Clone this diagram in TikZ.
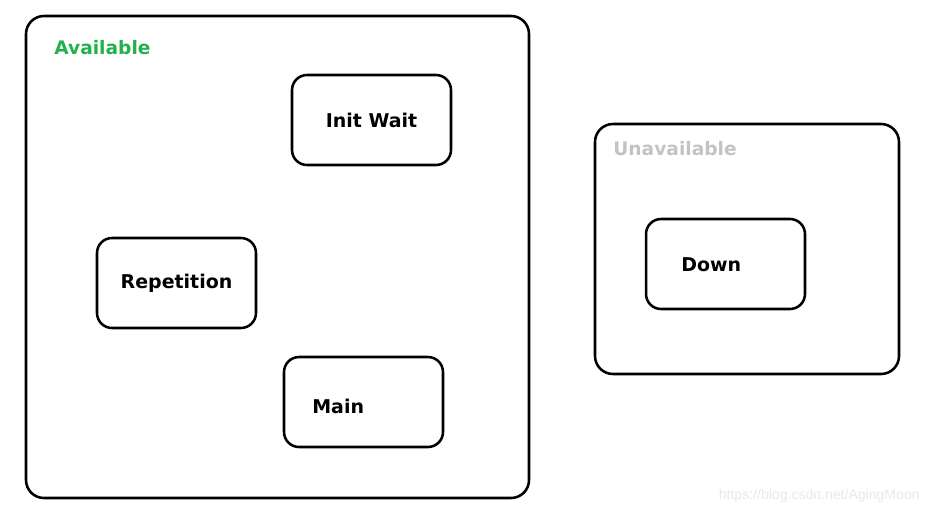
\documentclass[tikz,border=0pt]{standalone}
\usepackage{fontspec}
\setmainfont{DejaVu Sans}
\newfontfamily\markfont{Liberation Sans}
\usetikzlibrary{positioning}
\definecolor{availgreen}{RGB}{34,177,76}
\definecolor{unavailgray}{RGB}{195,195,195}
\definecolor{markgray}{RGB}{232,232,232}

\begin{document}
\begin{tikzpicture}[x=0.02cm,y=-0.02cm,line join=round,
 region/.style={draw=black,line width=1.45pt,rounded corners=0.36cm},
 statebox/.style={draw=black,line width=1.45pt,rounded corners=0.3cm,
  minimum width=3.18cm,minimum height=1.8cm,inner sep=0pt},
 statetext/.style={font=\fontsize{10.8}{13}\selectfont\bfseries,inner sep=0pt},
 regiontext/.style={font=\fontsize{10.6}{13}\selectfont\bfseries,anchor=west,inner sep=0pt}]
\useasboundingbox (0,0) rectangle (928,514);
% The two regions.
\draw[region] (26,16) rectangle (529,498);
\draw[region] (595,124) rectangle (899,374);
\node[regiontext,availgreen] (availlabel) at (54,48) {Available};
\node[regiontext,unavailgray] (unavaillabel) at (613,149) {Unavailable};
% States in the available region.
\node[statebox,statetext] (initwait) at (371.5,120) {Init Wait};
\node[statebox,statetext] (repetition) at (176.5,283) {Repetition};
\node[statebox] (main) at (363.5,402) {};
\node[statetext,anchor=west] (maintext) at (312,406) {Main};
% State in the unavailable region.
\node[statebox] (down) at (725.5,264) {};
\node[statetext,anchor=west] (downtext) at (681,265) {Down};
\node[font=\markfont\fontsize{8}{10}\selectfont,text=markgray,anchor=east,inner sep=0pt]
 (watermark) at (920,496) {https://blog.csdn.net/AgingMoon};
\end{tikzpicture}
\end{document}
